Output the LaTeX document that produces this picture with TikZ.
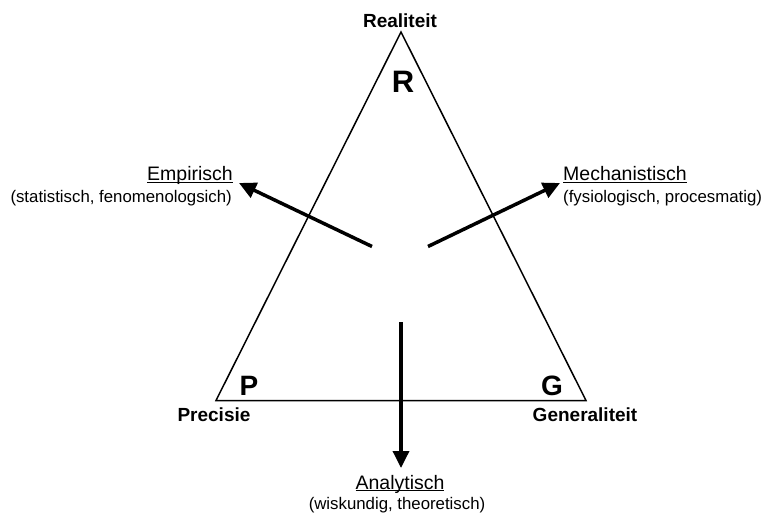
\documentclass[tikz,border=0pt]{standalone}
\usepackage{fontspec}
\setmainfont{Liberation Sans}
\usetikzlibrary{arrows.meta}
\newcommand\myul[1]{\setbox0\hbox{#1}\rlap{\rule[-2.4pt]{\wd0}{1.3pt}}\box0}
\begin{document}
\begin{tikzpicture}[x=1pt,y=-1pt,
  tri/.style={draw=black,line width=1.5pt,line join=miter},
  bigarrow/.style={draw=black,line width=3.5pt,-{Triangle[length=17pt,width=16pt]}},
  corner/.style={font=\fontsize{28}{30}\selectfont\bfseries,anchor=base,inner sep=0pt},
  vertexlbl/.style={font=\fontsize{19}{22}\selectfont\bfseries,anchor=base,inner sep=0pt},
  dirtitle/.style={font=\fontsize{19.5}{22}\selectfont,inner sep=0pt},
  dirsub/.style={font=\fontsize{16.8}{20}\selectfont,inner sep=0pt}]
\useasboundingbox (0,0) rectangle (763,513);
% triangle
\coordinate (top) at (401,32);
\coordinate (bl) at (216,400.5);
\coordinate (br) at (586,400.5);
\draw[tri] (top) -- (bl) -- (br) -- cycle;
% vertex labels
\node[vertexlbl] (real) at (400,28) {Realiteit};
\node[vertexlbl] (prec) at (214,421) {Precisie};
\node[vertexlbl] (gen) at (585,421) {Generaliteit};
% corner letters
\node[corner,font=\fontsize{31}{33}\selectfont\bfseries] (R) at (403,93) {R};
\node[corner] (P) at (249,395) {P};
\node[corner] (G) at (552,395) {G};
% direction labels
\node[dirtitle,anchor=base east] (emp) at (233,181) {\myul{Empirisch}};
\node[dirsub,anchor=base east] (empsub) at (232,203) {(statistisch, fenomenologsich)};
\node[dirtitle,anchor=base west] (mech) at (563,181) {\myul{Mechanistisch}};
\node[dirsub,anchor=base west] (mechsub) at (563,203) {(fysiologisch, procesmatig)};
\node[dirtitle,anchor=base] (ana) at (400,489) {\myul{Analytisch}};
\node[dirsub,anchor=base] (anasub) at (397,509) {(wiskundig, theoretisch)};
% arrows
\coordinate (es) at (372,246.5);
\coordinate (et) at (239,183);
\coordinate (ms) at (428,246.5);
\coordinate (mt) at (560,183);
\coordinate (as) at (401,322);
\coordinate (at) at (401,468);
\draw[bigarrow] (es) -- (et);
\draw[bigarrow] (ms) -- (mt);
\draw[bigarrow] (as) -- (at);
\end{tikzpicture}
\end{document}
